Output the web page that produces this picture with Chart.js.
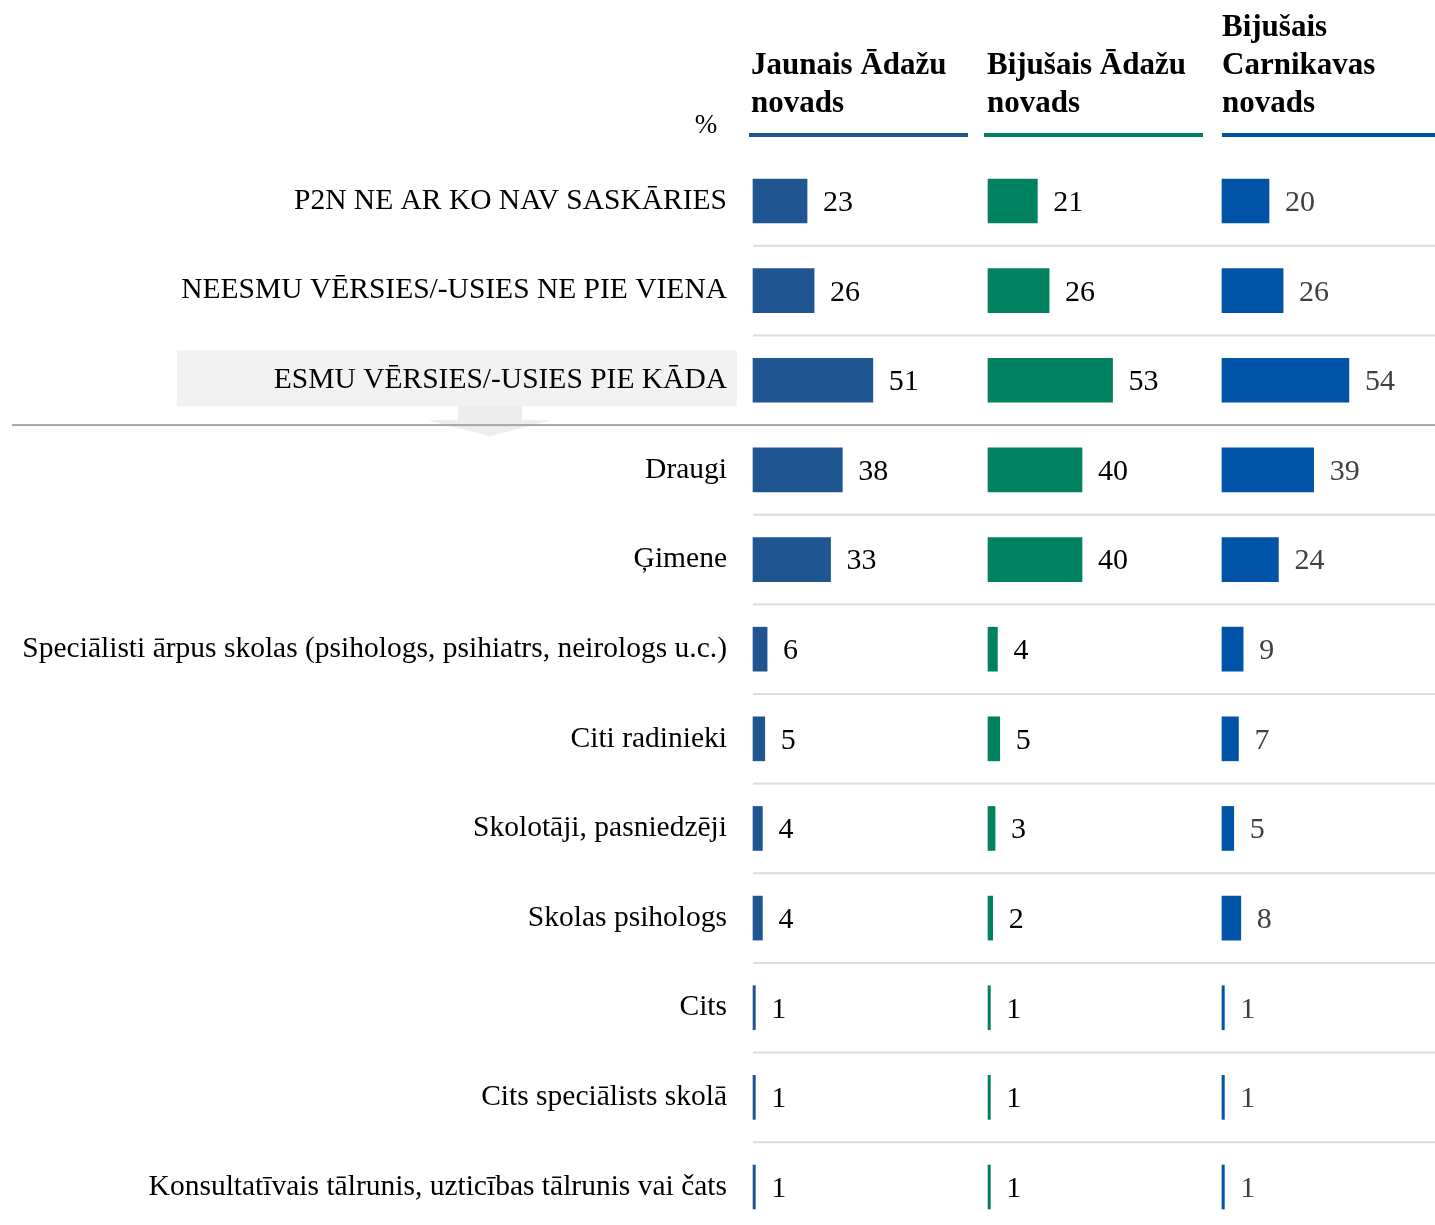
<!DOCTYPE html>
<html>
<head>
<meta charset="utf-8">
<script src="https://cdn.jsdelivr.net/npm/chart.js@4.4.0/dist/chart.umd.min.js"></script>
<style>
  body { margin: 0; background: #fff; }
  #wrap { position: relative; width: 1435px; height: 1225px; }
</style>
</head>
<body>
<div id="wrap"><canvas id="myChart"></canvas></div>
<script>
const categories = [
  "P2N NE AR KO NAV SASKĀRIES",
  "NEESMU VĒRSIES/-USIES NE PIE VIENA",
  "ESMU VĒRSIES/-USIES PIE KĀDA",
  "Draugi",
  "Ģimene",
  "Speciālisti ārpus skolas (psihologs, psihiatrs, neirologs u.c.)",
  "Citi radinieki",
  "Skolotāji, pasniedzēji",
  "Skolas psihologs",
  "Cits",
  "Cits speciālists skolā",
  "Konsultatīvais tālrunis, uzticības tālrunis vai čats"
];
const dataJaunais = [23, 26, 51, 38, 33, 6, 5, 4, 4, 1, 1, 1];
const dataBijusaisAdazu = [21, 26, 53, 40, 40, 4, 5, 3, 2, 1, 1, 1];
const dataCarnikava = [20, 26, 54, 39, 24, 9, 7, 5, 8, 1, 1, 1];

const headers = [
  ["Jaunais Ādažu", "novads"],
  ["Bijušais Ādažu", "novads"],
  ["Bijušais", "Carnikavas", "novads"]
];

const colJaunais = '#1F5591';
const colAdazu = '#008260';
const colCarnikava = '#0053A6';

const fontSerif = '"Liberation Serif", "Times New Roman", serif';
const highlightRow = 2;

// px per percent point, and where each panel starts
const pxPerUnit = 2.35;
const plotLeft = 753;
const plotRight = 1435;
const panelStart = [753, 988, 1222];

function axisFor(i) {
  const min = -(panelStart[i] - plotLeft) / pxPerUnit;
  const max = min + (plotRight - plotLeft) / pxPerUnit;
  return { type: 'linear', display: false, min: min, max: max };
}

const decorPlugin = {
  id: 'decor',
  beforeDraw(chart) {
    const ctx = chart.ctx;
    const y = chart.scales.y;
    const yc = y.getPixelForValue(highlightRow);
    ctx.save();
    // highlight box
    ctx.fillStyle = '#F2F2F2';
    ctx.fillRect(177, yc - 30, 560, 56);
    // arrow under it
    ctx.fillStyle = '#EDEDED';
    ctx.fillRect(458, yc + 26, 64, 14);
    ctx.beginPath();
    ctx.moveTo(428, yc + 40);
    ctx.lineTo(552, yc + 40);
    ctx.lineTo(490, yc + 56);
    ctx.closePath();
    ctx.fill();

    // headers
    ctx.fillStyle = '#000';
    ctx.textBaseline = 'middle';
    ctx.textAlign = 'left';
    ctx.font = 'bold 31px ' + fontSerif;
    const lineH = 38;
    headers.forEach((lines, i) => {
      const x = [751, 987, 1222][i];
      lines.forEach((t, j) => {
        ctx.fillText(t, x, 104 - (lines.length - 1 - j) * lineH);
      });
    });
    ctx.font = '27px ' + fontSerif;
    ctx.textAlign = 'center';
    ctx.fillText('%', 706, 126);

    // header underlines
    const ul = [[749, 968, colJaunais], [984, 1203, colAdazu], [1222, 1435, colCarnikava]];
    ul.forEach(u => {
      ctx.fillStyle = u[2];
      ctx.fillRect(u[0], 133, u[1] - u[0], 4);
    });
    ctx.restore();
  },
  beforeDatasetsDraw(chart) {
    const ctx = chart.ctx;
    const y = chart.scales.y;
    ctx.save();
    for (let i = 0; i < categories.length - 1; i++) {
      const ly = (y.getPixelForValue(i) + y.getPixelForValue(i + 1)) / 2;
      if (i === highlightRow) {
        ctx.fillStyle = '#A6A6A6';
        ctx.fillRect(12, ly - 1, plotRight - 12, 2);
      } else {
        ctx.fillStyle = '#DCDCDC';
        ctx.fillRect(plotLeft, ly - 1, plotRight - plotLeft, 2);
      }
    }
    ctx.restore();
  },
  afterDatasetsDraw(chart) {
    const ctx = chart.ctx;
    ctx.save();
    ctx.font = '30px ' + fontSerif;
    ctx.textAlign = 'left';
    ctx.textBaseline = 'middle';
    chart.data.datasets.forEach((ds, di) => {
      const meta = chart.getDatasetMeta(di);
      ctx.fillStyle = di === 2 ? '#404040' : '#000';
      meta.data.forEach((bar, i) => {
        ctx.fillText(String(ds.data[i]), bar.x + 16, bar.y + 2);
      });
    });
    ctx.restore();
  }
};

const dataChart = {
  labels: categories,
  datasets: [
    {
      label: 'Jaunais Ādažu novads',
      data: dataJaunais,
      backgroundColor: colJaunais,
      xAxisID: 'x1'
    }, {
      label: 'Bijušais Ādažu novads',
      data: dataBijusaisAdazu,
      backgroundColor: colAdazu,
      xAxisID: 'x2'
    }, {
      label: 'Bijušais Carnikavas novads',
      data: dataCarnikava,
      backgroundColor: colCarnikava,
      xAxisID: 'x3'
    }
  ]
};

const config = {
  type: 'bar',
  data: dataChart,
  options: {
    indexAxis: 'y',
    responsive: true,
    maintainAspectRatio: false,
    animation: false,
    layout: {
      padding: { top: 201, bottom: 38, left: 0, right: 0 }
    },
    datasets: {
      bar: {
        grouped: false,
        barThickness: 44,
        clip: false,
        borderWidth: 0
      }
    },
    plugins: {
      legend: { display: false },
      tooltip: { enabled: false }
    },
    scales: {
      x1: axisFor(0),
      x2: axisFor(1),
      x3: axisFor(2),
      y: {
        type: 'category',
        offset: false,
        grid: {
          display: true,
          drawOnChartArea: false,
          drawTicks: true,
          tickLength: 26,
          tickColor: 'rgba(0,0,0,0)'
        },
        border: { display: false },
        ticks: {
          color: '#000',
          padding: 0,
          autoSkip: false,
          font: { family: fontSerif, size: 29.5 }
        },
        afterFit(scale) {
          scale.width = plotLeft;
        }
      }
    }
  },
  plugins: [decorPlugin]
};

const myChart = new Chart(document.getElementById('myChart'), config);
</script>
</body>
</html>
